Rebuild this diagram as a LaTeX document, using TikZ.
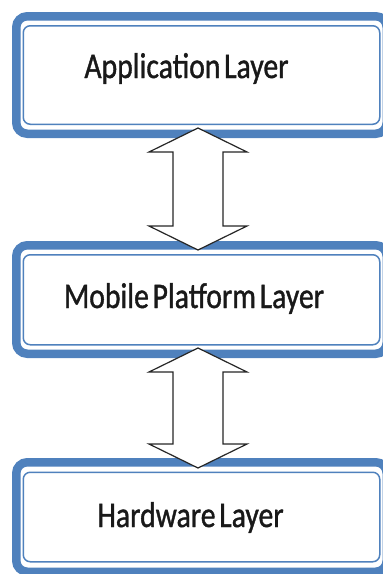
\documentclass[tikz,border=0pt]{standalone}
\usepackage{fontspec}
\setmainfont{Carlito}
\newfontfamily\layerfont[FakeBold=1.2, WordSpace=0.55]{Carlito}
\usetikzlibrary{calc}
\definecolor{bandblue}{HTML}{4F81BD}
\tikzset{
  layerbox/.style={draw=bandblue, line width=8.5pt, rounded corners=11pt, fill=white,
    inner sep=0pt, outer sep=0pt},
  innerline/.style={draw=bandblue, line width=1.5pt, rounded corners=7pt},
  layertext/.style={anchor=base, inner sep=0pt, text=black!90,
    font=\layerfont\fontsize{36}{40}\selectfont},
  blockarrow/.style={draw=black!85, line width=1.2pt, fill=white, line join=miter}
}
\newcommand{\sq}[1]{\scalebox{0.825}[1]{#1}}
\begin{document}
\begin{tikzpicture}[x=1pt, y=-1pt]
\useasboundingbox (0,0) rectangle (383,574);
% boxes
\node[layerbox, minimum width=370.5pt, minimum height=117.5pt] (app) at (201.5,75) {};
\node[layerbox, minimum width=370.5pt, minimum height=108.5pt] (mob) at (201.5,299.5) {};
\node[layerbox, minimum width=370.5pt, minimum height=109.5pt] (hw) at (201.5,517) {};
\draw[innerline] ($(app.north west)+(7,9.5)$) rectangle ($(app.south east)+(-7,-9.5)$);
\draw[innerline] ($(mob.north west)+(7,9.5)$) rectangle ($(mob.south east)+(-7,-9)$);
\draw[innerline] ($(hw.north west)+(7,10)$) rectangle ($(hw.south east)+(-7,-10)$);
% texts
\node[layertext] (appt) at (186.5,78) {\sq{Application Layer}};
\node[layertext] (mobt) at (194,308) {\sq{Mobile Platform Layer}};
\node[layertext] (hwt) at (190.5,527) {\sq{Hardware Layer}};
% block arrows
\coordinate (a1t) at (198,128);
\coordinate (a1b) at (198,250);
\coordinate (a2t) at (198,348);
\coordinate (a2b) at (198,468);
\draw[blockarrow] (a1t) -- ++(49,24) -- ++(-24,0) |- ($(a1b)+(25,-24)$) -- ++(24,0) -- (a1b)
  -- ++(-49,-24) -- ++(24,0) |- ($(a1t)+(-25,24)$) -- ++(-24,0) -- cycle;
\draw[blockarrow] (a2t) -- ++(49,24) -- ++(-24,0) |- ($(a2b)+(25,-24)$) -- ++(24,0) -- (a2b)
  -- ++(-49,-24) -- ++(24,0) |- ($(a2t)+(-25,24)$) -- ++(-24,0) -- cycle;
\end{tikzpicture}
\end{document}
